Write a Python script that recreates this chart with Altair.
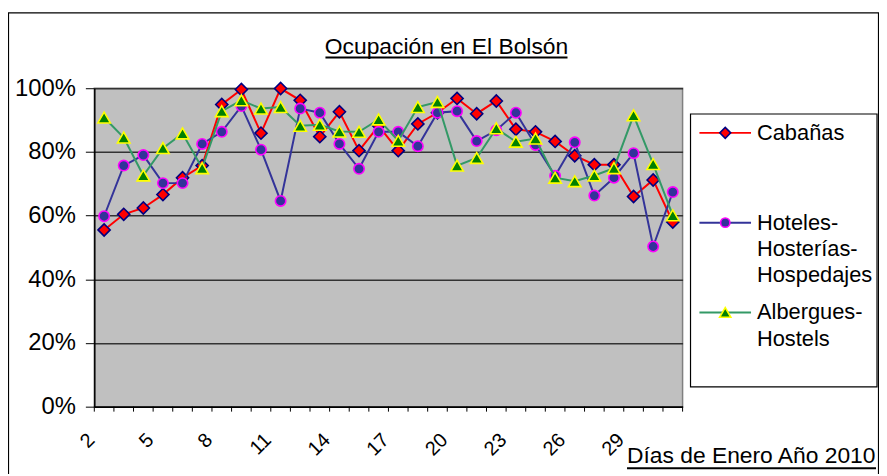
import altair as alt
import pandas as pd

# ---------------- data ----------------
days = list(range(2, 32))
cabanas = [55.5, 60.4, 62.4, 66.6, 71.9, 75.7, 94.9, 99.6, 85.9, 99.9,
           96.2, 84.8, 92.6, 80.4, 88.2, 80.4, 88.8, 92.3, 96.8, 92.0,
           96.0, 87.1, 86.3, 83.3, 78.8, 76.0, 76.0, 66.0, 71.2, 58.0]
hoteles = [59.8, 75.7, 79.0, 70.2, 70.2, 82.5, 86.3, 94.4, 80.7, 64.6,
           93.6, 92.3, 82.5, 74.7, 86.3, 86.3, 81.8, 92.3, 92.8, 83.4,
           86.8, 92.3, 82.2, 72.5, 83.0, 66.3, 71.9, 79.6, 50.3, 67.4]
albergues = [90.8, 84.5, 72.6, 81.2, 85.8, 74.9, 92.8, 96.2, 93.6, 94.1,
             88.2, 88.5, 86.4, 86.3, 90.2, 83.5, 94.1, 95.7, 75.7, 78.1,
             87.4, 83.2, 84.2, 71.9, 70.8, 72.6, 74.9, 91.5, 76.2, 60.1]
y_ticks = [0, 0.2, 0.4, 0.6, 0.8, 1.0]
x_label_days = [2, 5, 8, 11, 14, 17, 20, 23, 26, 29]
chart_title = "Ocupación en El Bolsón"
x_title = "Días de Enero Año 2010"
legend_lines = [["Cabañas"], ["Hoteles-", "Hosterías-", "Hospedajes"], ["Albergues-", "Hostels"]]

# ---------------- style ----------------
W, H = 593, 321
FONT = "Liberation Sans"
styles = [
    dict(line="#FF0000", shape="diamond", fill="#FF0000", stroke="#000080", size=150),
    dict(line="#333399", shape="circle", fill="#333399", stroke="#FF00FF", size=110),
    dict(line="#339966", shape="triangle-up", fill="#008000", stroke="#FFFF00", size=160),
]
series_values = [cabanas, hoteles, albergues]

x_scale = alt.Scale(domain=[1.5, 31.5], nice=False, zero=False)
y_scale = alt.Scale(domain=[0, 1], nice=False, zero=True)

x_axis = alt.Axis(values=x_label_days, labelAngle=315, labelAlign="right",
                  labelBaseline="middle", labelPadding=30, labelOffset=-13,
                  ticks=False, tickSize=0, grid=False, domainColor="black",
                  domainWidth=1.5, labelFontSize=20, labelFont=FONT,
                  labelColor="black", title=None, labelFlush=False,
                  labelOverlap=False)
y_axis = alt.Axis(values=y_ticks, format=".0%", labelFontSize=24, labelFont=FONT,
                  labelColor="black", tickSize=9, tickColor="black",
                  domainColor="black", domainWidth=1.5, gridColor="#333333",
                  gridWidth=1.6, labelPadding=10, title=None, labelFlush=False)

one = pd.DataFrame({"a": [0]})

layers = []

# outer frame
layers.append(alt.Chart(one).mark_rect(fill="white", fillOpacity=0, stroke="black",
                                        strokeWidth=1.2).encode(
    x=alt.value(-86.5), x2=alt.value(790.5), y=alt.value(-76), y2=alt.value(420)))

# series
for name, vals, st in zip(legend_lines, series_values, styles):
    df = pd.DataFrame({"day": days, "v": [v / 100 for v in vals]})
    base = alt.Chart(df).encode(
        x=alt.X("day:Q", scale=x_scale, axis=x_axis),
        y=alt.Y("v:Q", scale=y_scale, axis=y_axis))
    layers.append(base.mark_line(color=st["line"], strokeWidth=2))
    layers.append(base.mark_point(shape=st["shape"], filled=True, fill=st["fill"],
                                  stroke=st["stroke"], strokeWidth=1.6,
                                  size=st["size"], opacity=1))

# x tick marks at category boundaries
tick_df = pd.DataFrame({"t": [d - 0.5 for d in days] + [days[-1] + 0.5]})
layers.append(alt.Chart(tick_df).mark_rule(color="black", strokeWidth=1).encode(
    x=alt.X("t:Q", scale=x_scale, axis=x_axis), y=alt.value(H), y2=alt.value(H + 5)))

# title + underline
layers.append(alt.Chart(one).mark_text(text=chart_title, fontSize=23, font=FONT,
                                       align="center", baseline="alphabetic",
                                       color="black").encode(
    x=alt.value(355), y=alt.value(-35)))
layers.append(alt.Chart(one).mark_rule(color="black", strokeWidth=2).encode(
    x=alt.value(233), x2=alt.value(477), y=alt.value(-31)))

# x title + underline
layers.append(alt.Chart(one).mark_text(text=x_title, fontSize=23, font=FONT,
                                       align="left", baseline="alphabetic",
                                       color="black").encode(
    x=alt.value(537), y=alt.value(378)))
layers.append(alt.Chart(one).mark_rule(color="black", strokeWidth=2).encode(
    x=alt.value(537), x2=alt.value(788), y=alt.value(383)))

# legend box
layers.append(alt.Chart(one).mark_rect(fill="white", stroke="black",
                                        strokeWidth=1.2).encode(
    x=alt.value(601), x2=alt.value(789), y=alt.value(26), y2=alt.value(301)))

legend_y = [45, 135.5, 226]
for lines, st, ly in zip(legend_lines, styles, legend_y):
    layers.append(alt.Chart(one).mark_rule(color=st["line"], strokeWidth=2).encode(
        x=alt.value(610), x2=alt.value(662), y=alt.value(ly)))
    layers.append(alt.Chart(one).mark_point(shape=st["shape"], filled=True,
                                            fill=st["fill"], stroke=st["stroke"],
                                            strokeWidth=1.6, size=st["size"] * 0.8,
                                            opacity=1).encode(
        x=alt.value(636), y=alt.value(ly)))
    for i, txt in enumerate(lines):
        layers.append(alt.Chart(one).mark_text(text=txt, fontSize=22, font=FONT,
                                               align="left", baseline="middle",
                                               color="black").encode(
            x=alt.value(668), y=alt.value(ly + i * 26.5)))

chart = alt.layer(*layers).properties(
    width=W, height=H,
    autosize=alt.AutoSizeParams(type="none"),
    padding={"left": 87, "top": 79, "right": 198, "bottom": 66},
    background="white",
).configure_view(fill="#C0C0C0", stroke="#808080", strokeWidth=1.5)

chart.save("out.html", embed_options={"renderer": "svg", "actions": False})
